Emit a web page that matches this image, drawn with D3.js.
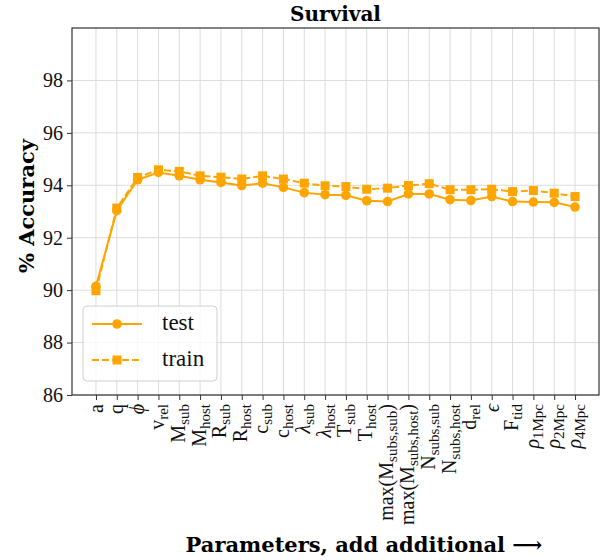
<!DOCTYPE html>
<html>
<head>
<meta charset="utf-8">
<script src="https://cdn.jsdelivr.net/npm/d3@7"></script>
<style>
  body { margin: 0; background: #fff; }
  svg text { font-family: "Liberation Serif", "DejaVu Serif", serif; }
  svg text.bold { font-family: "DejaVu Serif", serif; font-weight: bold; }
</style>
</head>
<body>
<svg id="chart" width="603" height="560"></svg>
<script>
"use strict"

// parameter labels, "_{...}" marks a subscript, "*" marks math italic
const params = ["a", "q", "*ϕ", "v_{rel}", "M_{sub}", "M_{host}", "R_{sub}", "R_{host}",
    "c_{sub}", "c_{host}", "*λ_{sub}", "*λ_{host}", "T_{sub}", "T_{host}",
    "max(M_{subs,sub})", "max(M_{subs,host})", "N_{subs,sub}", "N_{subs,host}",
    "d_{rel}", "*ϵ", "F_{tid}", "*ρ_{1Mpc}", "*ρ_{2Mpc}", "*ρ_{4Mpc}"]

const testAcc = [90.15, 93.03, 94.21, 94.49, 94.36, 94.21, 94.11, 93.99, 94.08, 93.92, 93.72, 93.64,
    93.62, 93.41, 93.38, 93.67, 93.67, 93.45, 93.42, 93.57, 93.38, 93.36, 93.35, 93.17]
const trainAcc = [89.98, 93.13, 94.30, 94.59, 94.53, 94.36, 94.31, 94.24, 94.36, 94.24, 94.08, 93.98,
    93.95, 93.85, 93.89, 93.99, 94.06, 93.83, 93.83, 93.85, 93.76, 93.80, 93.70, 93.57]

const yTicks = [86, 88, 90, 92, 94, 96, 98]

const color = "#ffa500"
const margin = {left: 72, top: 28, right: 599, bottom: 395}

const svg = d3.select("#chart")

const x = d3.scaleLinear()
    .domain([-0.05 * (params.length - 1), (params.length - 1) * 1.05])
    .range([margin.left, margin.right])
const y = d3.scaleLinear().domain([86, 100]).range([margin.bottom, margin.top])

// grid
svg.append("g")
    .selectAll("line")
    .data(params.map((d, i) => i))
    .join("line")
    .attr("x1", d => x(d)).attr("x2", d => x(d))
    .attr("y1", margin.top).attr("y2", margin.bottom)
    .style("stroke", "#dcdcdc").style("stroke-width", 1)
svg.append("g")
    .selectAll("line")
    .data(yTicks)
    .join("line")
    .attr("x1", margin.left).attr("x2", margin.right)
    .attr("y1", d => y(d)).attr("y2", d => y(d))
    .style("stroke", "#dcdcdc").style("stroke-width", 1)

// axes
const yAxis = d3.axisLeft(y).tickValues(yTicks).tickSize(5).tickPadding(4).tickFormat(d3.format("d"))
svg.append("g")
    .attr("transform", "translate(" + margin.left + ",0)")
    .call(yAxis)
    .call(g => g.select(".domain").remove())
    .call(g => g.selectAll("text").style("font-size", "20px").style("font-family", "Liberation Serif").attr("fill", "#111"))
    .call(g => g.selectAll("line").attr("stroke", "#333"))

const xAxis = d3.axisBottom(x).tickValues(params.map((d, i) => i)).tickSize(5).tickFormat("")
svg.append("g")
    .attr("transform", "translate(0," + margin.bottom + ")")
    .call(xAxis)
    .call(g => g.select(".domain").remove())
    .call(g => g.selectAll("line").attr("stroke", "#333"))

// frame
svg.append("rect")
    .attr("x", margin.left).attr("y", margin.top)
    .attr("width", margin.right - margin.left).attr("height", margin.bottom - margin.top)
    .style("fill", "none").style("stroke", "#333").style("stroke-width", 1.2)

// rotated tick labels with subscripts
const labels = svg.append("g")
params.forEach((p, i) => {
    let italic = false
    if (p[0] === "*") { italic = true; p = p.slice(1) }
    const g = labels.append("g")
        .attr("transform", "translate(" + x(i) + "," + (margin.bottom + 9) + ") rotate(-90)")
    const t = g.append("text").attr("text-anchor", "end").style("font-size", "20px").attr("fill", "#111")
    const parts = p.split(/(_\{[^}]*\})/).filter(s => s.length)
    let shift = 0
    parts.forEach(s => {
        if (s.startsWith("_{")) {
            t.append("tspan").attr("dy", 4).style("font-size", "15px").text(s.slice(2, -1))
            shift = -4
        } else {
            t.append("tspan").attr("dy", shift).style("font-style", italic ? "italic" : "normal").text(s)
            shift = 0
        }
    })
    const bb = t.node().getBBox()
    t.attr("y", -(bb.y + bb.height / 2))
})

// lines and markers
const line = d3.line().x((d, i) => x(i)).y(d => y(d))

svg.append("path")
    .datum(trainAcc)
    .attr("d", line)
    .style("fill", "none").style("stroke", color).style("stroke-width", 2)
    .style("stroke-dasharray", "7,3")
svg.append("g")
    .selectAll("rect")
    .data(trainAcc)
    .join("rect")
    .attr("x", (d, i) => x(i) - 4.5).attr("y", d => y(d) - 4.5)
    .attr("width", 9).attr("height", 9)
    .style("fill", color)

svg.append("path")
    .datum(testAcc)
    .attr("d", line)
    .style("fill", "none").style("stroke", color).style("stroke-width", 2)
svg.append("g")
    .selectAll("circle")
    .data(testAcc)
    .join("circle")
    .attr("cx", (d, i) => x(i)).attr("cy", d => y(d))
    .attr("r", 4.8)
    .style("fill", color)

// legend
const legend = svg.append("g")
legend.append("rect")
    .attr("x", 83).attr("y", 306).attr("width", 134).attr("height", 75).attr("rx", 4)
    .style("fill", "#fff").style("fill-opacity", 0.8).style("stroke", "#d0d0d0")
const legendItems = [{name: "test", dash: null, mark: "circle"}, {name: "train", dash: "7,3", mark: "rect"}]
legendItems.forEach((d, i) => {
    const ly = 324 + i * 36
    legend.append("line")
        .attr("x1", 92).attr("x2", 142).attr("y1", ly).attr("y2", ly)
        .style("stroke", color).style("stroke-width", 2)
        .style("stroke-dasharray", d.dash)
    if (d.mark === "circle")
        legend.append("circle").attr("cx", 117).attr("cy", ly).attr("r", 4.8).style("fill", color)
    else
        legend.append("rect").attr("x", 112.5).attr("y", ly - 4.5).attr("width", 9).attr("height", 9).style("fill", color)
    legend.append("text")
        .attr("x", 162).attr("y", ly + 6)
        .style("font-size", "23px").attr("fill", "#111")
        .text(d.name)
})

// titles
svg.append("text")
    .attr("class", "bold")
    .attr("x", (margin.left + margin.right) / 2).attr("y", 21)
    .attr("text-anchor", "middle")
    .style("font-size", "20px")
    .text("Survival")

svg.append("text")
    .attr("class", "bold")
    .attr("transform", "translate(34,206) rotate(-90)")
    .attr("text-anchor", "middle")
    .style("font-size", "21px")
    .text("% Accuracy")

svg.append("text")
    .attr("class", "bold")
    .attr("x", 364).attr("y", 552)
    .attr("text-anchor", "middle")
    .style("font-size", "21px")
    .text("Parameters, add additional \u27f6")
</script>
</body>
</html>
